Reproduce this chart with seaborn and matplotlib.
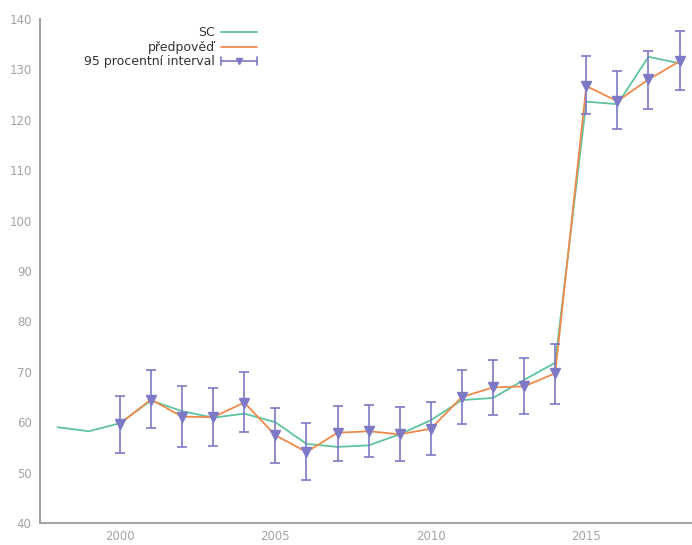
import numpy as np
import pandas as pd
import matplotlib
matplotlib.use("Agg")
import matplotlib.pyplot as plt
import seaborn as sns
from matplotlib.lines import Line2D

# ---- data ----
years_sc = list(range(1998, 2019))
sc = [59.0, 58.2, 59.8, 64.3, 62.2, 60.9, 61.7, 60.0, 55.7, 55.1, 55.4,
      57.6, 60.4, 64.4, 64.8, 68.4, 71.8, 123.6, 123.1, 132.5, 131.2]

years_fc = list(range(2000, 2019))
forecast = [59.7, 64.5, 61.1, 61.0, 63.9, 57.4, 54.1, 57.9, 58.2, 57.6, 58.7,
            65.0, 66.9, 67.1, 69.7, 126.7, 123.7, 128.0, 131.6]
ci_low = [53.9, 58.9, 55.0, 55.3, 58.0, 51.9, 48.5, 52.4, 53.0, 52.4, 53.4,
          59.6, 61.4, 61.7, 63.7, 121.1, 118.1, 122.1, 125.9]
ci_high = [65.1, 70.4, 67.2, 66.7, 69.9, 62.8, 59.8, 63.3, 63.5, 63.0, 64.0,
           70.3, 72.3, 72.7, 75.5, 132.7, 129.7, 133.7, 137.6]

labels = ["SC", "předpověď", "95 procentní interval"]
xticks = [2000, 2005, 2010, 2015]
yticks = list(range(40, 141, 10))

GREEN = "#5ec49e"
ORANGE = "#f08a4b"
PURPLE = "#7d79c6"
GRAY = "#a3a3a3"

df_sc = pd.DataFrame({"rok": years_sc, "hodnota": sc})
df_fc = pd.DataFrame({"rok": years_fc, "hodnota": forecast,
                      "low": ci_low, "high": ci_high})

sns.set_style("white")
plt.rcParams["font.family"] = ["DejaVu Sans"]

W, H = 692, 545
fig = plt.figure(figsize=(W / 100, H / 100), dpi=100)
ax = fig.add_axes([40 / W, 22 / H, 652 / W, 504 / H])

sns.lineplot(data=df_sc, x="rok", y="hodnota", ax=ax, color=GREEN,
             linewidth=1.3, legend=False)
sns.lineplot(data=df_fc, x="rok", y="hodnota", ax=ax, color=ORANGE,
             linewidth=1.3, legend=False)
yerr = np.array([df_fc["hodnota"] - df_fc["low"], df_fc["high"] - df_fc["hodnota"]])
ax.errorbar(df_fc["rok"], df_fc["hodnota"], yerr=yerr, fmt="v", color=PURPLE,
            ecolor=PURPLE, elinewidth=1.2, capsize=3.5, capthick=1.2,
            markersize=6.5, zorder=5)

ax.set_xlim(1997.43, 2018.4)
ax.set_ylim(40, 140)
ax.set_xticks(xticks)
ax.set_yticks(yticks)
ax.set_xlabel("")
ax.set_ylabel("")

for s in ["top", "right"]:
    ax.spines[s].set_visible(False)
for s in ["left", "bottom"]:
    ax.spines[s].set_color(GRAY)
    ax.spines[s].set_linewidth(1.5)
ax.tick_params(axis="both", direction="in", length=4, width=1,
               color=GRAY, labelcolor=GRAY, labelsize=8.5)
ax.tick_params(axis="y", pad=6)
ax.tick_params(axis="x", pad=5)

# ---- gnuplot-style legend (text right-aligned, sample on the right) ----
tr = fig.transFigure
rows_y = [32, 47, 61]
text_x = 215
s0, s1 = 221, 257
for i, (lab, yy) in enumerate(zip(labels, rows_y)):
    fy = 1 - yy / H
    fig.text(text_x / W, fy, lab, ha="right", va="center",
             fontsize=9, color="#333333")
    if i == 0:
        fig.add_artist(Line2D([s0 / W, s1 / W], [fy, fy], color=GREEN,
                              lw=1.3, transform=tr))
    elif i == 1:
        fig.add_artist(Line2D([s0 / W, s1 / W], [fy, fy], color=ORANGE,
                              lw=1.3, transform=tr))
    else:
        h = 4 / H
        fig.add_artist(Line2D([s0 / W, s1 / W], [fy, fy], color=PURPLE,
                              lw=1.2, transform=tr))
        fig.add_artist(Line2D([s0 / W, s0 / W], [fy - h, fy + h],
                              color=PURPLE, lw=1.2, transform=tr))
        fig.add_artist(Line2D([s1 / W, s1 / W], [fy - h, fy + h],
                              color=PURPLE, lw=1.2, transform=tr))
        fig.add_artist(Line2D([(s0 + s1) / 2 / W], [fy], marker="v",
                              color=PURPLE, markersize=5, lw=0,
                              transform=tr))

fig.savefig("out.png", dpi=100)
